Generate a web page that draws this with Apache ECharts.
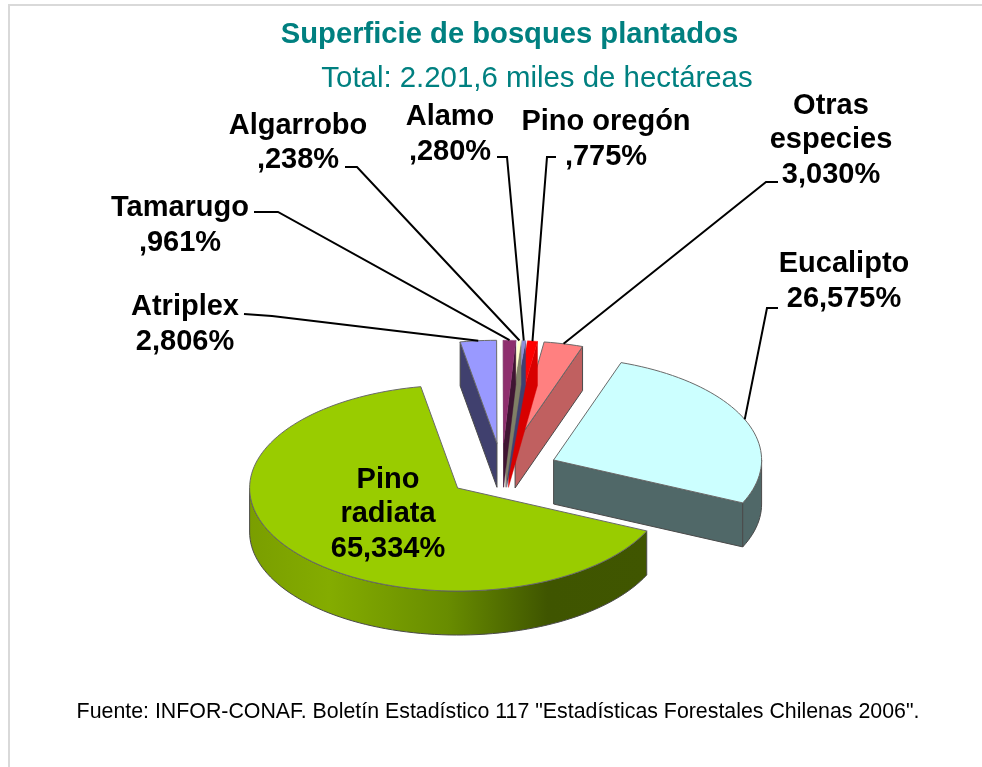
<!DOCTYPE html>
<html>
<head>
<meta charset="utf-8">
<title>Superficie de bosques plantados</title>
<script src="https://cdn.jsdelivr.net/npm/echarts@6/dist/echarts.min.js"></script>
<style>
  html, body { margin: 0; padding: 0; background: #fff; }
  #chart { width: 982px; height: 767px; }
</style>
</head>
<body>
<div id="chart"></div>
<script>
// counter-clockwise from the end of Eucalipto, so the back slices are painted first
const species = ['Eucalipto', 'Otras especies', 'Pino oregón', 'Alamo', 'Algarrobo', 'Tamarugo', 'Atriplex', 'Pino radiata'];
const shares = [26.575, 3.03, 0.775, 0.28, 0.238, 0.961, 2.806, 65.334];
const topColors = ['#CCFFFF', '#FF8080', '#FF0000', '#8F8FD8', '#FFFFCC', '#8E2F6E', '#9999FF', '#99CC00'];
const wallColors = ['#506868', '#C06060', '#D80000', '#404070', '#807F66', '#3F1532', '#40406E', '#7A9E00'];
const titleText = 'Superficie de bosques plantados';
const subtitleText = 'Total: 2.201,6 miles de hectáreas';
const sourceText = 'Fuente: INFOR-CONAF. Boletín Estadístico 117 "Estadísticas Forestales Chilenas 2006".';

// label text lines and where the labels sit
const labelNames = {
  'Otras especies': 'Otras\nespecies',
  'Pino radiata': 'Pino\nradiata'
};
const labelPos = {
  'Eucalipto': [844, 281.5],
  'Otras especies': [831, 140],
  'Pino oregón': [606, 139.5],
  'Alamo': [450, 134.5],
  'Algarrobo': [298, 143],
  'Tamarugo': [180, 225.5],
  'Atriplex': [185, 324.5],
  'Pino radiata': [388, 514]
};
// leader line start + elbow
const leaderElbow = {
  'Eucalipto': [[778, 308], [767, 308]],
  'Otras especies': [[778, 182], [766, 182]],
  'Pino oregón': [[556, 157], [547, 157]],
  'Alamo': [[497, 157], [507, 157]],
  'Algarrobo': [[345, 167], [357, 167]],
  'Tamarugo': [[254, 212], [278, 212]],
  'Atriplex': [[244, 314], [272, 316]]
};

const pie = { cx: 502, cy: 471, rx: 208, ry: 103, depth: 44, explode: 0.27, endDeg: 24.6 };
const total = shares.reduce((a, b) => a + b, 0);
const rad = d => d * Math.PI / 180;

// angles grow clockwise on screen; each slice is [from, to]
const sliceAngles = [];
let cursor = pie.endDeg;
shares.forEach(v => {
  const span = v / total * 360;
  sliceAngles.push([cursor - span, cursor]);
  cursor -= span;
});

function fmtShare(v) {
  return v.toFixed(3).replace('.', ',').replace(/^0/, '') + '%';
}

function arcPoints(ox, oy, from, to, drop) {
  const pts = [];
  const n = Math.max(2, Math.ceil((to - from) / 2));
  for (let i = 0; i <= n; i++) {
    const a = rad(from + (to - from) * i / n);
    pts.push([ox + pie.rx * Math.cos(a), oy + pie.ry * Math.sin(a) + drop]);
  }
  return pts;
}

function renderSlice(params, api) {
  const i = params.dataIndex;
  const name = species[i];
  const [from, to] = sliceAngles[i];
  const mid = rad((from + to) / 2);
  const ox = pie.cx + pie.explode * pie.rx * Math.cos(mid);
  const oy = pie.cy + pie.explode * pie.ry * Math.sin(mid);
  const d = pie.depth;
  // thin slices would disappear under a full 1px outline
  const thin = shares[i] < 1;
  const edge = { stroke: thin ? wallColors[i] : '#4a4a4a', lineWidth: thin ? 0.4 : 1 };
  const children = [];

  const wall = (points, fill) => children.push({
    type: 'polygon',
    shape: { points: points },
    style: Object.assign({ fill: fill }, edge)
  });
  const radial = a => {
    const e = [ox + pie.rx * Math.cos(rad(a)), oy + pie.ry * Math.sin(rad(a))];
    wall([[ox, oy], e, [e[0], e[1] + d], [ox, oy + d]], wallColors[i]);
  };

  // only the faces turned towards the viewer
  if (Math.cos(rad(from)) < 0) radial(from);
  if (Math.cos(rad(to)) > 0) radial(to);
  for (let k = -1; k <= 1; k++) {
    const a0 = Math.max(from, k * 360);
    const a1 = Math.min(to, k * 360 + 180);
    if (a1 > a0) {
      const top = arcPoints(ox, oy, a0, a1, 0);
      const bottom = arcPoints(ox, oy, a0, a1, d).reverse();
      const fill = name === 'Pino radiata'
        ? { type: 'linear', x: 0, y: 0, x2: 1, y2: 0, colorStops: [
            { offset: 0, color: '#7A9E00' },
            { offset: 0.2, color: '#84AC00' },
            { offset: 0.5, color: '#688C00' },
            { offset: 0.75, color: '#3F5500' },
            { offset: 1, color: '#405600' }
          ] }
        : wallColors[i];
      wall(top.concat(bottom), fill);
    }
  }

  children.push({
    type: 'polygon',
    shape: { points: [[ox, oy]].concat(arcPoints(ox, oy, from, to, 0)) },
    style: { fill: topColors[i], stroke: thin ? topColors[i] : '#6a6a6a', lineWidth: thin ? 0.4 : 1 }
  });

  const elbow = leaderElbow[name];
  if (elbow) {
    const tip = [ox + pie.rx * Math.cos(mid), oy + pie.ry * Math.sin(mid)];
    children.push({
      type: 'polyline',
      z2: 50,
      shape: { points: elbow.concat([tip]) },
      style: { fill: null, stroke: '#000', lineWidth: 2 }
    });
  }
  const pos = labelPos[name];
  children.push({
    type: 'text',
    z2: 60,
    style: {
      text: (labelNames[name] || name) + '\n' + fmtShare(shares[i]),
      x: pos[0],
      y: pos[1],
      align: 'center',
      verticalAlign: 'middle',
      fontFamily: '"Liberation Sans", Arial, sans-serif',
      fontWeight: 'bold',
      fontSize: 29,
      lineHeight: 34.5,
      fill: '#000'
    }
  });
  return { type: 'group', children: children };
}

const chart = echarts.init(document.getElementById('chart'), null, { renderer: 'canvas' });
chart.setOption({
  animation: false,
  backgroundColor: '#fff',
  textStyle: { fontFamily: '"Liberation Sans", Arial, sans-serif' },
  title: [
    { text: titleText, left: 504.5, top: 15, textAlign: 'center',
      textStyle: { color: '#008080', fontSize: 29.2, fontWeight: 'bold', fontFamily: '"Liberation Sans", Arial, sans-serif' } },
    { text: subtitleText, left: 532, top: 59, textAlign: 'center',
      textStyle: { color: '#008080', fontSize: 29.4, fontWeight: 'normal', fontFamily: '"Liberation Sans", Arial, sans-serif' } },
    { text: sourceText, left: 493, top: 697, textAlign: 'center',
      textStyle: { color: '#000', fontSize: 21.35, fontWeight: 'normal', fontFamily: '"Liberation Sans", Arial, sans-serif' } }
  ],
  graphic: [{
    type: 'rect',
    shape: { x: 9, y: 5, width: 990, height: 800 },
    style: { fill: 'none', stroke: '#d9d9d9', lineWidth: 2 },
    silent: true,
    z: -1
  }],
  series: [{
    type: 'custom',
    coordinateSystem: 'none',
    renderItem: renderSlice,
    data: shares,
    silent: true
  }]
});
</script>
</body>
</html>
